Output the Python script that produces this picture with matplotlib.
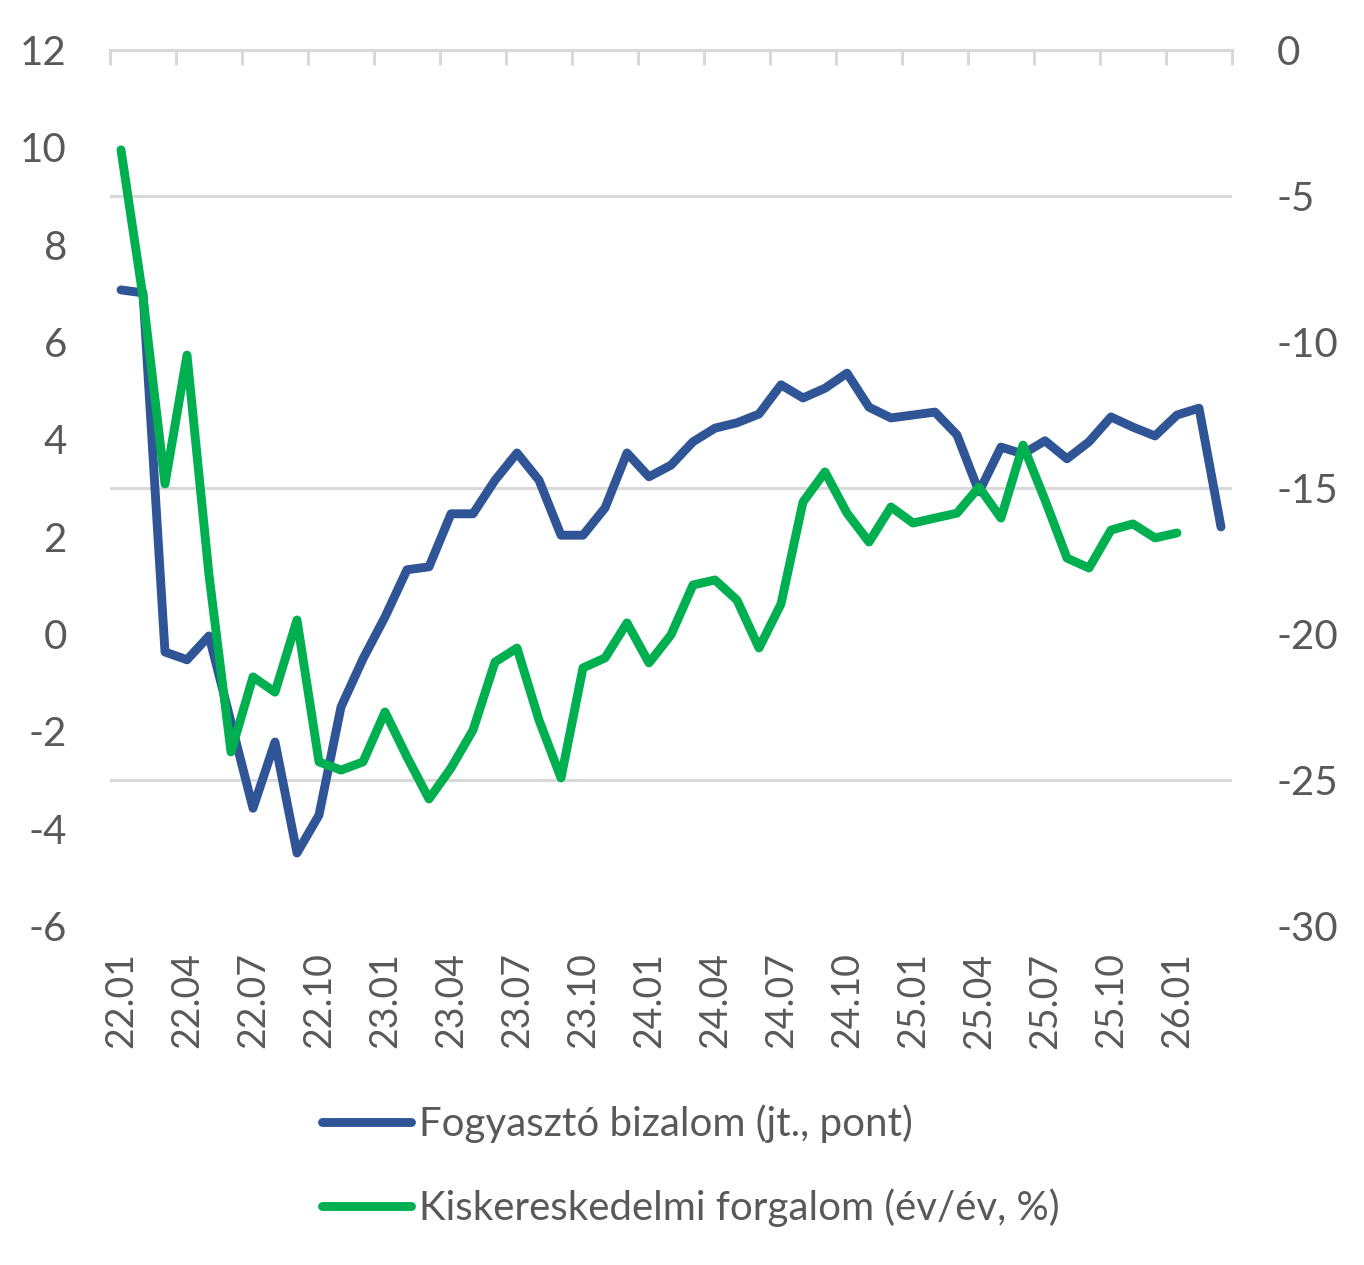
import matplotlib
matplotlib.use("Agg")
import matplotlib.pyplot as plt
import numpy as np

plt.rcParams['font.family'] = ['Lato', 'DejaVu Sans']
plt.rcParams['font.weight'] = 'normal'
plt.rcParams['axes.unicode_minus'] = False

# havi adatok 22.01 - 26.03
fogyaszto = [7.07, 7.01, -0.37, -0.53, -0.04, -1.81, -3.58, -2.22, -4.50, -3.72,
             -1.50, -0.51, 0.35, 1.32, 1.38, 2.47, 2.47, 3.16, 3.72, 3.16,
             2.03, 2.03, 2.59, 3.72, 3.23, 3.47, 3.95, 4.23, 4.34, 4.52,
             5.12, 4.85, 5.05, 5.36, 4.66, 4.44, 4.50, 4.56, 4.09, 2.92,
             3.84, 3.70, 3.97, 3.60, 3.95, 4.46, 4.25, 4.07, 4.50, 4.64,
             2.20]
kisker = [-3.42, -8.46, -14.86, -10.45, -17.98, -24.04, -21.47, -21.99, -19.52, -24.38,
          -24.66, -24.38, -22.67, -24.21, -25.65, -24.59, -23.29, -20.96, -20.48, -22.95,
          -24.93, -21.16, -20.82, -19.62, -20.99, -20.03, -18.32, -18.15, -18.84, -20.48,
          -18.97, -15.48, -14.45, -15.86, -16.85, -15.65, -16.20, -16.03, -15.86, -14.97,
          -16.03, -13.53, -15.41, -17.40, -17.74, -16.44, -16.23, -16.71, -16.54]
tick_labels = ['22.01', '22.04', '22.07', '22.10', '23.01', '23.04', '23.07', '23.10',
               '24.01', '24.04', '24.07', '24.10', '25.01', '25.04', '25.07', '25.10', '26.01']
left_ticks = np.arange(-6, 13, 2)
right_ticks = np.arange(-30, 1, 5)

BLUE = '#2F5597'
GREEN = '#00B050'
GRID = '#d9d9d9'
TXT = '#595959'

fig = plt.figure(figsize=(13.64, 12.65), dpi=100)
ax = fig.add_axes([110 / 1364, 1 - 926 / 1265, 1122 / 1364, 876 / 1265])
ax2 = ax.twinx()

l1, = ax.plot(np.arange(len(fogyaszto)), fogyaszto, color=BLUE, lw=6.4,
              solid_joinstyle='round', solid_capstyle='round',
              label='Fogyasztó bizalom (jt., pont)')
l2, = ax2.plot(np.arange(len(kisker)), kisker, color=GREEN, lw=6.4,
               solid_joinstyle='round', solid_capstyle='round',
               label='Kiskereskedelmi forgalom (év/év, %)')

n = len(fogyaszto)
ax.set_xlim(-0.5, n - 0.5)
ax.set_ylim(-6, 12)
ax2.set_ylim(-30, 0)

for a in (ax, ax2):
    for s in a.spines.values():
        s.set_visible(False)
ax.spines['top'].set_visible(True)
ax.spines['top'].set_color(GRID)
ax.spines['top'].set_linewidth(2.2)

# rács a jobb tengely beosztásához igazítva
ax.set_yticks(np.linspace(-6, 12, len(right_ticks)), minor=True)
ax.grid(which='minor', axis='y', color=GRID, lw=2.2)
ax.set_yticks(left_ticks)
ax.set_yticklabels([str(v) for v in left_ticks])
ax.tick_params(axis='y', which='both', length=0, pad=31, labelsize=29, labelcolor=TXT)

ax2.set_yticks(right_ticks)
ax2.set_yticklabels([str(v) for v in right_ticks])
ax2.tick_params(axis='y', length=0, pad=32, labelsize=29, labelcolor=TXT)

ax.set_xticks(np.arange(0, n, 3)[:len(tick_labels)])
ax.set_xticklabels(tick_labels, rotation=90)
ax.set_xticks(np.arange(-0.5, n, 3), minor=True)
ax.tick_params(axis='x', which='major', length=0, pad=19, labelsize=27, labelcolor=TXT)
ax.tick_params(axis='x', which='minor', top=True, bottom=False, direction='in',
               length=10.8, width=2.2, color=GRID)

fig.legend([l1, l2], [l1.get_label(), l2.get_label()], loc='center left',
           bbox_to_anchor=(322 / 1364, 1 - 1166 / 1265), frameon=False,
           fontsize=29, handlelength=2.2, handletextpad=0.2, labelspacing=1.12,
           borderpad=0, borderaxespad=0, labelcolor=TXT)

fig.savefig('out.png', dpi=100)
